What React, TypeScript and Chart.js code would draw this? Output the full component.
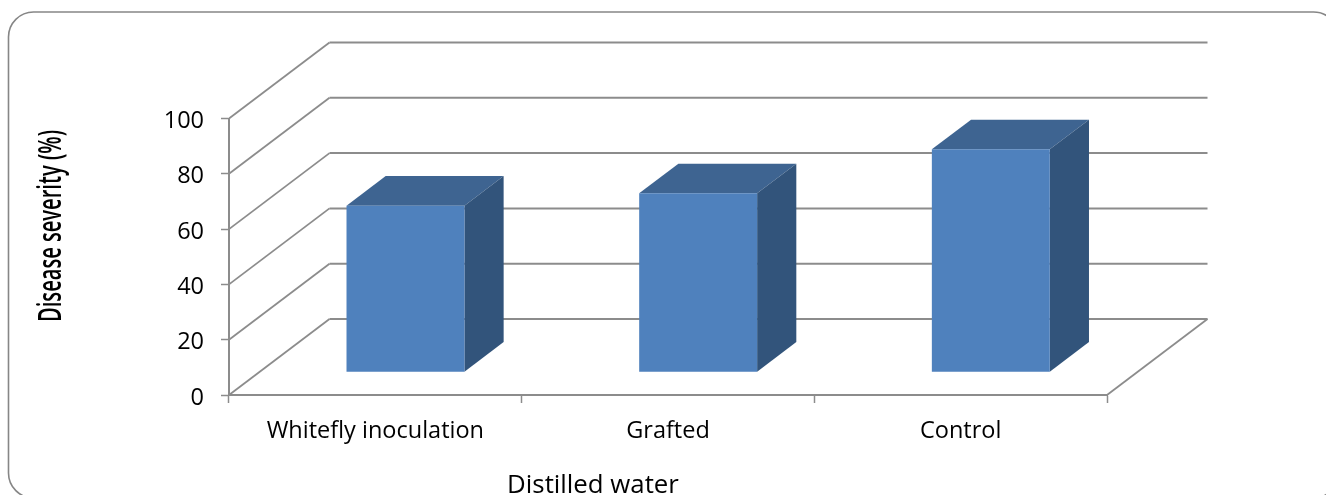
import React, { useEffect, useRef } from "react";
import { Chart, registerables } from "chart.js";

Chart.register(...registerables);

const categories = ["Whitefly inoculation", "Grafted", "Control"];
const severity = [60.2, 64.7, 80.6];
const yTickStep = 20;
const yMax = 100;
const yAxisTitle = "Disease severity (%)";
const xAxisTitle = "Distilled water";

const FONT = "'Open Sans', Lato, sans-serif";
const GRID = "#8c8c8c";
// Receding direction of the 3D box: wall depth, bar inset and bar depth.
const WALL_DX = 100.5;
const WALL_DY = -76;
const BAR_INSET = 0.3;
const BAR_DEPTH = 0.39;

const frame3d = {
  id: "frame3d",
  beforeDraw(chart: any) {
    const { ctx } = chart;
    ctx.save();
    ctx.strokeStyle = "#868686";
    ctx.lineWidth = 1.6;
    ctx.beginPath();
    ctx.roundRect(8.5, 12, 1330, 486, 25);
    ctx.stroke();
    ctx.restore();
  },
  beforeDatasetsDraw(chart: any) {
    const { ctx, scales, chartArea } = chart;
    const y = scales.y;
    ctx.save();
    ctx.strokeStyle = GRID;
    for (const t of y.ticks) {
      const py = y.getPixelForValue(t.value);
      const bx = chartArea.left + WALL_DX;
      const by = py + WALL_DY;
      ctx.lineWidth = 1.8;
      ctx.beginPath();
      ctx.moveTo(chartArea.left, py);
      ctx.lineTo(bx, by);
      ctx.stroke();
      ctx.lineWidth = 2;
      ctx.beginPath();
      ctx.moveTo(bx, by);
      ctx.lineTo(chartArea.right + WALL_DX, by);
      ctx.stroke();
    }
    // Right-hand edge of the floor
    ctx.lineWidth = 1.8;
    ctx.beginPath();
    ctx.moveTo(chartArea.right, chartArea.bottom);
    ctx.lineTo(chartArea.right + WALL_DX, chartArea.bottom + WALL_DY);
    ctx.stroke();
    ctx.restore();
  },
  beforeDatasetDraw(chart: any, args: any) {
    const { ctx } = chart;
    ctx.save();
    // Bars stand partway into the floor rather than on its front edge.
    ctx.translate(WALL_DX * BAR_INSET, WALL_DY * BAR_INSET);
    const dx = WALL_DX * BAR_DEPTH;
    const dy = WALL_DY * BAR_DEPTH;
    for (const el of args.meta.data) {
      const { x, y, base, width } = el.getProps(["x", "y", "base", "width"]);
      const l = x - width / 2;
      const r = x + width / 2;
      ctx.fillStyle = "#3e6491";
      ctx.beginPath();
      ctx.moveTo(l, y);
      ctx.lineTo(l + dx, y + dy);
      ctx.lineTo(r + dx, y + dy);
      ctx.lineTo(r, y);
      ctx.closePath();
      ctx.fill();
      ctx.fillStyle = "#32547b";
      ctx.beginPath();
      ctx.moveTo(r, y);
      ctx.lineTo(r + dx, y + dy);
      ctx.lineTo(r + dx, base + dy);
      ctx.lineTo(r, base);
      ctx.closePath();
      ctx.fill();
    }
  },
  afterDatasetDraw(chart: any) {
    chart.ctx.restore();
  },
  afterDraw(chart: any) {
    const { ctx } = chart;
    ctx.save();
    ctx.fillStyle = "#000";
    ctx.textAlign = "center";
    ctx.textBaseline = "middle";
    ctx.font = `25.8px ${FONT}`;
    ctx.fillText(xAxisTitle, 593, 485.5);
    ctx.translate(52, 226);
    ctx.rotate(-Math.PI / 2);
    ctx.font = `600 33px ${FONT}`;
    // The axis title is set in a strongly condensed width.
    ctx.fillText(yAxisTitle, 0, 0, 192);
    ctx.restore();
  },
};

export default function App() {
  const ref = useRef<HTMLCanvasElement>(null);
  useEffect(() => {
    const chart = new Chart(ref.current as HTMLCanvasElement, {
      type: "bar",
      data: {
        labels: categories,
        datasets: [
          {
            data: severity,
            backgroundColor: "#4f81bd",
            borderWidth: 0,
            barPercentage: 1,
            categoryPercentage: 0.403,
            clip: false,
          } as any,
        ],
      },
      options: {
        responsive: false,
        animation: false,
        layout: { padding: { left: 0, top: 118.5, right: 219, bottom: 0 } },
        plugins: { legend: { display: false }, tooltip: { enabled: false } },
        scales: {
          x: {
            afterFit(s: any) {
              s.height = 100;
            },
            grid: {
              drawOnChartArea: false,
              offset: true,
              tickLength: 8,
              tickColor: GRID,
              tickWidth: 1.5,
            },
            border: { color: GRID, width: 2 },
            ticks: {
              color: "#000",
              padding: 14,
              maxRotation: 0,
              font: { family: FONT, size: 23.5 },
            },
          },
          y: {
            min: 0,
            max: yMax,
            afterFit(s: any) {
              s.width = 229;
            },
            grid: {
              drawOnChartArea: false,
              tickLength: 8,
              tickColor: GRID,
              tickWidth: 1.5,
            },
            border: { color: GRID, width: 2 },
            ticks: {
              stepSize: yTickStep,
              color: "#000",
              padding: 17,
              labelOffset: 3,
              font: { family: FONT, size: 23.5 },
            },
          },
        },
      },
      plugins: [frame3d],
    });
    return () => chart.destroy();
  }, []);
  return (
    <div style={{ position: "absolute", left: 0, top: 0 }}>
      <canvas ref={ref} width={1326} height={495} style={{ display: "block" }} />
    </div>
  );
}
